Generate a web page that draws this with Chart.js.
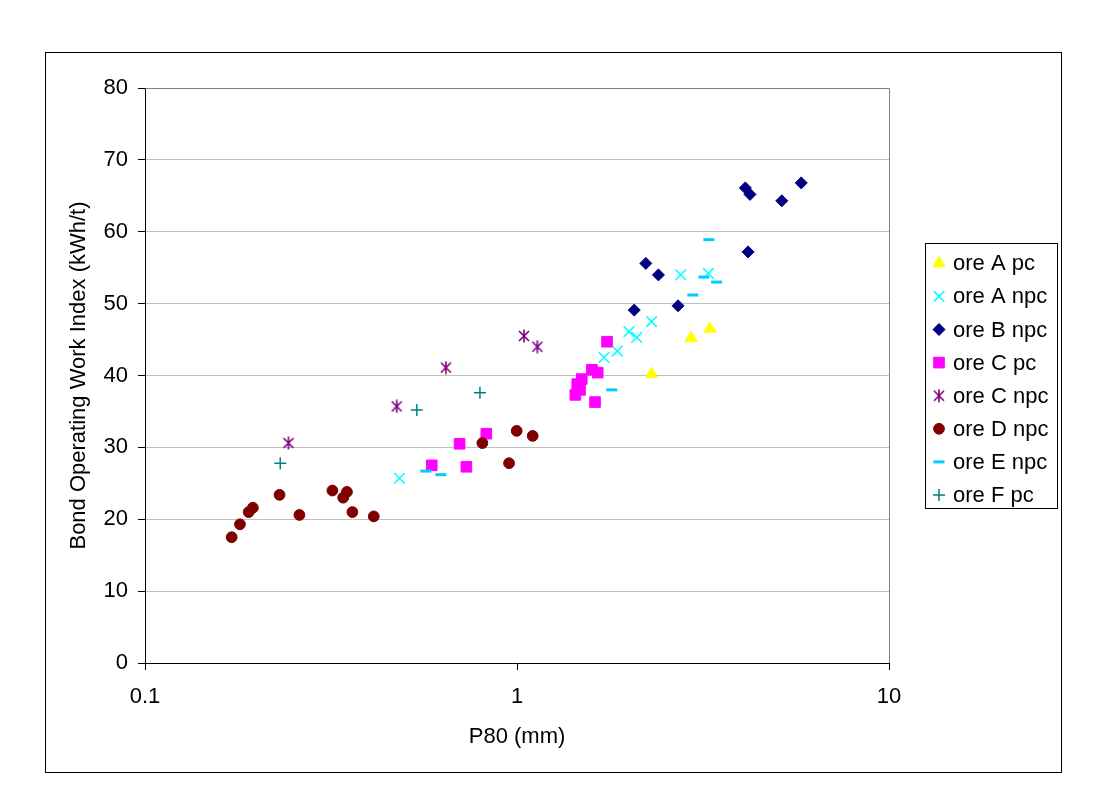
<!DOCTYPE html>
<html>
<head>
<meta charset="utf-8">
<script src="https://cdn.jsdelivr.net/npm/chart.js@4/dist/chart.umd.min.js"></script>
<style>
html, body { margin: 0; padding: 0; background: #ffffff; }
#wrap { width: 1103px; height: 809px; }
</style>
</head>
<body>
<div id="wrap"><canvas id="c" width="1103" height="809"></canvas></div>
<script>
// ---- data ----
const seriesNames = ['ore A pc', 'ore A npc', 'ore B npc', 'ore C pc', 'ore C npc', 'ore D npc', 'ore E npc', 'ore F pc'];

const oreApcP80 = [2.30, 2.94, 3.30];
const oreApcWi  = [40.2, 45.2, 46.5];

const oreAnpcP80 = [0.483, 1.714, 1.86, 2.0, 2.098, 2.30, 2.755, 3.27];
const oreAnpcWi  = [25.7, 42.5, 43.4, 46.1, 45.3, 47.5, 54.0, 54.2];

const oreBnpcP80 = [2.066, 2.22, 2.40, 2.71, 4.11, 4.18, 4.23, 5.15, 5.81];
const oreBnpcWi  = [49.1, 55.6, 54.0, 49.7, 66.1, 57.2, 65.2, 64.3, 66.8];

const oreCpcP80 = [0.590, 0.701, 0.731, 0.827, 1.435, 1.452, 1.477, 1.493, 1.59, 1.621, 1.648, 1.746];
const oreCpcWi  = [27.5, 30.5, 27.3, 31.9, 37.3, 38.8, 38.0, 39.5, 40.8, 36.3, 40.4, 44.7];

const oreCnpcP80 = [0.243, 0.475, 0.644, 1.044, 1.134];
const oreCnpcWi  = [30.6, 35.7, 41.1, 45.5, 44.0];

const oreDnpcP80 = [0.171, 0.180, 0.190, 0.195, 0.230, 0.260, 0.319, 0.341, 0.349, 0.361, 0.412, 0.807, 0.952, 0.998, 1.102];
const oreDnpcWi  = [17.5, 19.3, 21.0, 21.6, 23.4, 20.6, 24.0, 23.0, 23.8, 21.0, 20.4, 30.6, 27.8, 32.3, 31.6];

const oreEnpcP80 = [0.569, 0.624, 1.797, 2.97, 3.18, 3.28, 3.44];
const oreEnpcWi  = [26.7, 26.2, 38.0, 51.2, 53.7, 58.9, 53.0];

const oreFpcP80 = [0.231, 0.538, 0.795];
const oreFpcWi  = [27.8, 35.2, 37.6];

const xTickValues = [0.1, 1, 10];
const yTickMin = 0, yTickMax = 80, yTickStep = 10;

// ---- styles ----
const FONT = '"Liberation Sans", Arial, sans-serif';

function makeAsterisk(color) {
  const c = document.createElement('canvas');
  c.width = 14; c.height = 14;
  const g = c.getContext('2d');
  g.strokeStyle = color; g.lineWidth = 1.6;
  g.beginPath();
  g.moveTo(2, 2); g.lineTo(12, 12);
  g.moveTo(12, 2); g.lineTo(2, 12);
  g.moveTo(7, 0.5); g.lineTo(7, 13.5);
  g.stroke();
  return c;
}

const styles = [
  { color: '#FFFF00', pointStyle: 'triangle', radius: 7, borderWidth: 1 },
  { color: '#00FFFF', pointStyle: 'crossRot', radius: 7.5, borderWidth: 1.5 },
  { color: '#000080', pointStyle: 'rectRot', radius: 6, borderWidth: 1 },
  { color: '#FF00FF', pointStyle: 'rect', radius: 7.5, borderWidth: 1 },
  { color: '#800080', pointStyle: makeAsterisk('#800080'), radius: 7, borderWidth: 1.5 },
  { color: '#800000', pointStyle: 'circle', radius: 5.4, borderWidth: 1 },
  { color: '#00CCFF', pointStyle: 'line', radius: 5.5, borderWidth: 3 },
  { color: '#008080', pointStyle: 'cross', radius: 6, borderWidth: 1.5 }
];

const xs = [oreApcP80, oreAnpcP80, oreBnpcP80, oreCpcP80, oreCnpcP80, oreDnpcP80, oreEnpcP80, oreFpcP80];
const ys = [oreApcWi, oreAnpcWi, oreBnpcWi, oreCpcWi, oreCnpcWi, oreDnpcWi, oreEnpcWi, oreFpcWi];

const datasets = seriesNames.map((name, i) => ({
  label: name,
  data: xs[i].map((x, j) => ({ x: x, y: ys[i][j] })),
  pointStyle: styles[i].pointStyle,
  pointRadius: styles[i].radius,
  pointHoverRadius: styles[i].radius,
  pointBorderWidth: styles[i].borderWidth,
  pointBackgroundColor: styles[i].color,
  pointBorderColor: styles[i].color,
  backgroundColor: styles[i].color,
  borderColor: styles[i].color,
  showLine: false,
  order: seriesNames.length - i
}));

// ---- plugins: frame, plot border, legend ----
const framePlugin = {
  id: 'frame',
  beforeDraw(chart) {
    const ctx = chart.ctx;
    ctx.save();
    ctx.fillStyle = '#ffffff';
    ctx.fillRect(0, 0, chart.width, chart.height);
    ctx.strokeStyle = '#000000';
    ctx.lineWidth = 1;
    ctx.strokeRect(45.5, 52.5, 1016, 720);
    ctx.restore();
  },
  beforeDatasetsDraw(chart) {
    const a = chart.chartArea;
    const ctx = chart.ctx;
    ctx.save();
    ctx.strokeStyle = '#808080';
    ctx.lineWidth = 1;
    ctx.beginPath();
    ctx.moveTo(Math.round(a.left) + 0.5, Math.round(a.top) + 0.5);
    ctx.lineTo(Math.round(a.right) + 0.5, Math.round(a.top) + 0.5);
    ctx.lineTo(Math.round(a.right) + 0.5, Math.round(a.bottom));
    ctx.stroke();
    ctx.restore();
  }
};

const legendPlugin = {
  id: 'boxLegend',
  afterDraw(chart) {
    const ctx = chart.ctx;
    const bx = 925, by = 243, bw = 132, bh = 265;
    ctx.save();
    ctx.strokeStyle = '#000000';
    ctx.lineWidth = 1;
    ctx.strokeRect(bx + 0.5, by + 0.5, bw, bh);
    ctx.font = '22px ' + FONT;
    ctx.textBaseline = 'middle';
    ctx.textAlign = 'left';
    chart.data.datasets.forEach((ds, i) => {
      const y = 263.3 + i * 33.1;
      const st = styles[i];
      ctx.fillStyle = st.color;
      ctx.strokeStyle = st.color;
      ctx.lineWidth = st.borderWidth;
      Chart.helpers.drawPoint(ctx, {
        pointStyle: st.pointStyle, radius: st.radius, rotation: 0, borderWidth: st.borderWidth
      }, 939, y);
      ctx.fillStyle = '#000000';
      ctx.fillText(ds.label, 953, y + 1);
    });
    ctx.restore();
  }
};

new Chart(document.getElementById('c'), {
  type: 'scatter',
  data: { datasets: datasets },
  plugins: [framePlugin, legendPlugin],
  options: {
    responsive: false,
    animation: false,
    events: [],
    layout: { padding: { left: 45, top: 88, right: 214, bottom: 36 } },
    plugins: { legend: { display: false }, tooltip: { enabled: false } },
    scales: {
      x: {
        type: 'logarithmic',
        min: xTickValues[0],
        max: xTickValues[xTickValues.length - 1],
        afterBuildTicks(scale) {
          scale.ticks = xTickValues.map(v => ({ value: v, major: false }));
        },
        afterFit(scale) { scale.height = 110; },
        grid: { drawOnChartArea: false, drawTicks: true, tickLength: 7, tickColor: '#000000', color: '#000000' },
        border: { display: true, color: '#000000', width: 1 },
        ticks: {
          autoSkip: false, maxRotation: 0, padding: 14,
          color: '#000000', font: { family: FONT, size: 22 },
          callback: (v) => String(v)
        },
        title: {
          display: true, text: 'P80 (mm)', color: '#000000',
          font: { family: FONT, size: 22 }, padding: { top: 0, bottom: 23 }
        }
      },
      y: {
        type: 'linear',
        min: yTickMin, max: yTickMax,
        afterFit(scale) { scale.width = 100; },
        grid: { color: '#C0C0C0', drawTicks: true, tickLength: 7, tickColor: '#000000' },
        border: { display: true, color: '#000000', width: 1 },
        ticks: {
          stepSize: yTickStep, padding: 10,
          color: '#000000', font: { family: FONT, size: 22 }
        },
        title: {
          display: true, text: 'Bond Operating Work Index (kWh/t)', color: '#000000',
          font: { family: FONT, size: 22 }, padding: { top: 21, bottom: 0 }
        }
      }
    }
  }
});
</script>
</body>
</html>
